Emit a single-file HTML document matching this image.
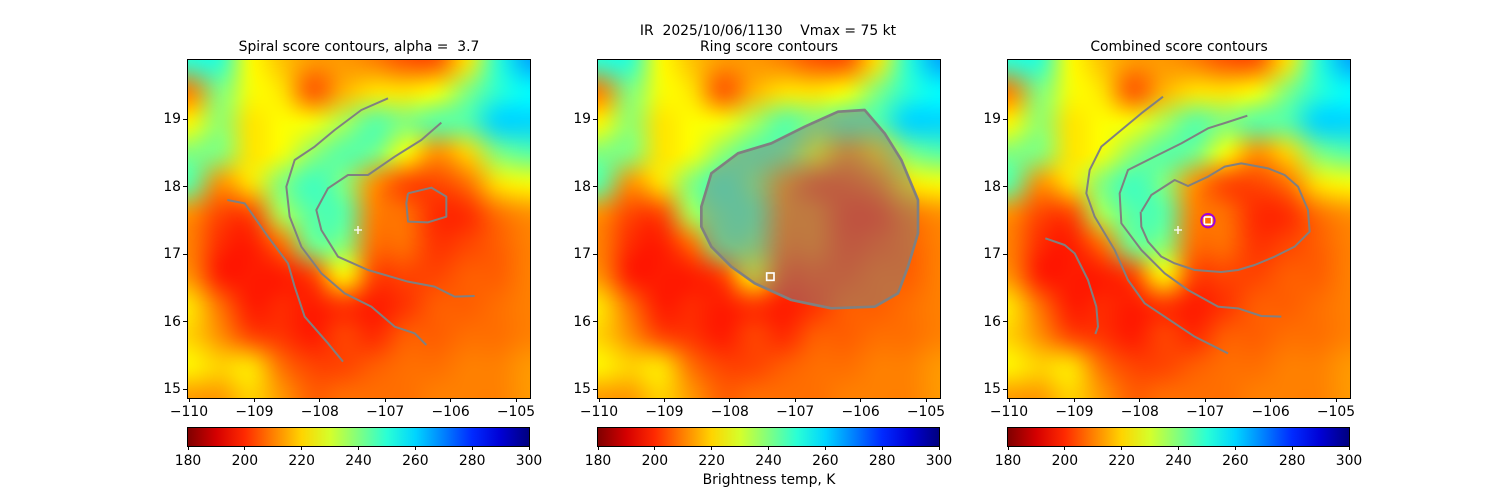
<!DOCTYPE html>
<html><head><meta charset="utf-8"><style>
body{margin:0;background:#fff;width:1500px;height:500px;overflow:hidden;font-family:"DejaVu Sans","Liberation Sans",sans-serif;}
#root{position:relative;width:1500px;height:500px;}
.t{position:absolute;font-size:13.9px;line-height:16px;color:#000;white-space:pre;}
canvas{position:absolute;}
</style></head><body><div id="root">
<div class="t" style="left:0;width:1536px;text-align:center;top:23px">IR  2025/10/06/1130    Vmax = 75 kt</div>
<div class="t" style="left:598px;width:342px;text-align:center;top:472px">Brightness temp, K</div>
</div>
<script>
// brightness temp grid (K), 12x12, rows top->bottom
const tempRows = [
[250,250,225,218,213,213,210,205,205,222,250,265],
[210,240,226,222,205,216,222,222,226,240,250,255],
[224,238,222,225,226,235,245,240,245,245,260,260],
[240,240,222,226,238,245,242,226,212,220,240,245],
[245,212,222,240,248,240,212,203,203,208,222,226],
[212,203,203,235,245,245,210,208,200,200,208,212],
[210,200,198,208,242,240,208,208,201,203,206,210],
[212,198,198,198,203,225,203,203,203,206,206,210],
[222,208,198,200,198,201,198,201,206,206,208,210],
[220,212,203,201,198,203,200,206,206,208,208,210],
[224,220,222,208,203,203,206,208,208,210,210,213],
[213,213,220,213,206,208,208,208,210,210,210,213]];
const xTicks=[-110,-109,-108,-107,-106,-105];
const yTicks=[15,16,17,18,19];
const cbTicks=[180,200,220,240,260,280,300];
const titles=["Spiral score contours, alpha =  3.7","Ring score contours","Combined score contours"];
const spiralA=[[600,115],[520,150],[440,210],[380,260],[320,300],[295,380],[305,470],[340,560],[400,640],[470,700],[550,740],[620,800],[680,820],[715,855]];
const spiralB=[[760,188],[700,240],[620,290],[540,345],[480,345],[420,385],[385,450],[400,510],[450,590],[540,630],[660,665],[740,680],[800,710],[860,708]];
const spiralC=[[118,420],[170,430],[240,530],[300,610],[320,680],[350,770],[420,850],[465,905]];
const spiralLoop=[[660,400],[730,383],[775,410],[775,470],[720,487],[660,485],[655,430],[660,400]];
const ringBlob=[[310,440],[340,340],[420,280],[520,250],[620,200],[720,155],[800,150],[860,220],[910,300],[960,420],[960,520],[930,620],[900,700],[830,740],[700,745],[580,720],[470,670],[400,620],[340,560],[310,500]];
const combA=[[465,110],[400,160],[340,210],[280,260],[245,330],[235,400],[260,470],[320,570],[360,660],[410,730],[500,790],[560,830],[660,880]];
const combB=[[718,167],[660,186],[600,205],[520,250],[440,290],[360,330],[335,400],[340,490],[400,570],[470,640],[540,690],[630,740],[690,745],[760,768],[820,770]];
const combC=[[112,535],[170,555],[200,580],[240,660],[265,740],[270,800],[262,822]];
const combLoop=[[400,455],[430,405],[500,360],[540,378],[600,350],[650,320],[700,310],[780,325],[830,345],[870,380],[900,450],[905,515],[860,560],[800,590],[740,615],[690,630],[640,636],[560,630],[500,610],[460,590],[420,545],[400,500],[398,455]];
const centerPlus=[510,510];
const ringCenter=[517,650];
const combCenter=[600,482];

function jetR(T){const v=1-(T-180)/120;const c=x=>Math.max(0,Math.min(1,x));
return [c(1.5-Math.abs(4*v-3))*255,c(1.5-Math.abs(4*v-2))*255,c(1.5-Math.abs(4*v-1))*255];}
const root=document.getElementById('root');
const NS="http://www.w3.org/2000/svg";
const panelX=[188,598,1008], top0=60, W=342, H=338;
const xs=v=>1+(v+110)*65.4, ys=v=>329-(v-15)*67.5;
function label(txt,l,t,w,align,name){const d=document.createElement('div');d.className='t';d.textContent=txt;
d.style.left=l+'px';d.style.top=t+'px';if(w){d.style.width=w+'px';d.style.textAlign=align;}


root.appendChild(d);}
panelX.forEach((px,p)=>{
  const small=document.createElement('canvas');small.width=12;small.height=12;
  const sc=small.getContext('2d');const img=sc.createImageData(12,12);
  tempRows.forEach((row,r)=>row.forEach((T,c)=>{const k=(r*12+c)*4,col=jetR(T);img.data[k]=col[0];img.data[k+1]=col[1];img.data[k+2]=col[2];img.data[k+3]=255;}));
  sc.putImageData(img,0,0);
  const cv=document.createElement('canvas');cv.width=W;cv.height=H;cv.style.left=px+'px';cv.style.top=top0+'px';
  
  
  const ctx=cv.getContext('2d');ctx.imageSmoothingEnabled=true;ctx.imageSmoothingQuality='high';
  ctx.drawImage(small,-W/24,-H/24,W*13/12,H*13/12);root.appendChild(cv);
  const svg=document.createElementNS(NS,'svg');svg.setAttribute('width',W);svg.setAttribute('height',H);
  svg.setAttribute('viewBox','0 0 1026 1014');svg.style.position='absolute';svg.style.left=px+'px';svg.style.top=top0+'px';svg.style.overflow='visible';
  
  
  const line=(pts,name,closed,fill,op)=>{const e=document.createElementNS(NS,closed?'polygon':'polyline');
    e.setAttribute('points',pts.map(q=>q.join(',')).join(' '));e.setAttribute('fill',fill||'none');
    e.setAttribute('stroke','#808080');e.setAttribute('stroke-width',closed&&fill?8:6);e.setAttribute('stroke-linejoin','round');
    if(op)e.setAttribute('fill-opacity',op);
    
    
    svg.appendChild(e);};
  const plus=(c)=>{const e=document.createElementNS(NS,'path');e.setAttribute('d',`M${c[0]-12},${c[1]}H${c[0]+12}M${c[0]},${c[1]-12}V${c[1]+12}`);
    e.setAttribute('stroke','#fff');e.setAttribute('stroke-width',4);
    
    
    svg.appendChild(e);};
  const sq=(c)=>{const e=document.createElementNS(NS,'rect');e.setAttribute('x',c[0]-11);e.setAttribute('y',c[1]-11);e.setAttribute('width',22);e.setAttribute('height',22);
    e.setAttribute('fill','none');e.setAttribute('stroke','#fff');e.setAttribute('stroke-width',5);
    
    
    svg.appendChild(e);};
  if(p===0){line(spiralA,'spiral-contour');line(spiralB,'spiral-contour');line(spiralC,'spiral-contour');line(spiralLoop,'spiral-contour-loop');plus(centerPlus);}
  if(p===1){line(ringBlob,'ring-contour-region',true,'#808080','0.5');sq(ringCenter);}
  if(p===2){line(combA,'combined-contour');line(combB,'combined-contour');line(combC,'combined-contour');line(combLoop,'combined-contour-loop');plus(centerPlus);
    sq(combCenter);const ci=document.createElementNS(NS,'circle');ci.setAttribute('cx',combCenter[0]);ci.setAttribute('cy',combCenter[1]);ci.setAttribute('r',20);
    ci.setAttribute('fill','none');ci.setAttribute('stroke','#a000e0');ci.setAttribute('stroke-width',6);
    
    
    svg.appendChild(ci);}
  root.appendChild(svg);
  const fr=document.createElement('div');fr.style.cssText=`position:absolute;left:${px-1}px;top:${top0-1}px;width:${W}px;height:${H}px;border:1px solid #000;`;
  
  
  root.appendChild(fr);
  label(titles[p],px-30,39,W+60,'center','panel-title');
  xTicks.forEach(v=>{const x=px+xs(v);const tk=document.createElement('div');tk.style.cssText=`position:absolute;left:${x-0.5}px;top:${top0+H}px;width:1px;height:4px;background:#000`;
    
    
    root.appendChild(tk);label('\u2212'+Math.abs(v),x-30,404,60,'center','x-tick-label');});
  yTicks.forEach(v=>{const y=top0+ys(v);const tk=document.createElement('div');tk.style.cssText=`position:absolute;left:${px-5}px;top:${y-0.5}px;width:4px;height:1px;background:#000`;
    
    
    root.appendChild(tk);label(String(v),px-42,y-8,35,'right','y-tick-label');});
  const cb=document.createElement('div');let stops=[];for(let i=0;i<=12;i++){const c=jetR(180+i*10);stops.push(`rgb(${c.map(Math.round).join(',')}) ${i/12*100}%`);}
  cb.style.cssText=`position:absolute;left:${px-1}px;top:427px;width:${W-1}px;height:18px;border:1px solid #000;background:linear-gradient(to right,${stops.join(',')})`;
  
  
  root.appendChild(cb);
  cbTicks.forEach(v=>{const x=px+(v-180)/120*(W-1);const tk=document.createElement('div');tk.style.cssText=`position:absolute;left:${x-0.5}px;top:446px;width:1px;height:4px;background:#000`;
    
    
    root.appendChild(tk);label(String(v),x-25,453,50,'center','colorbar-tick-label');});
});
</script></body></html>
